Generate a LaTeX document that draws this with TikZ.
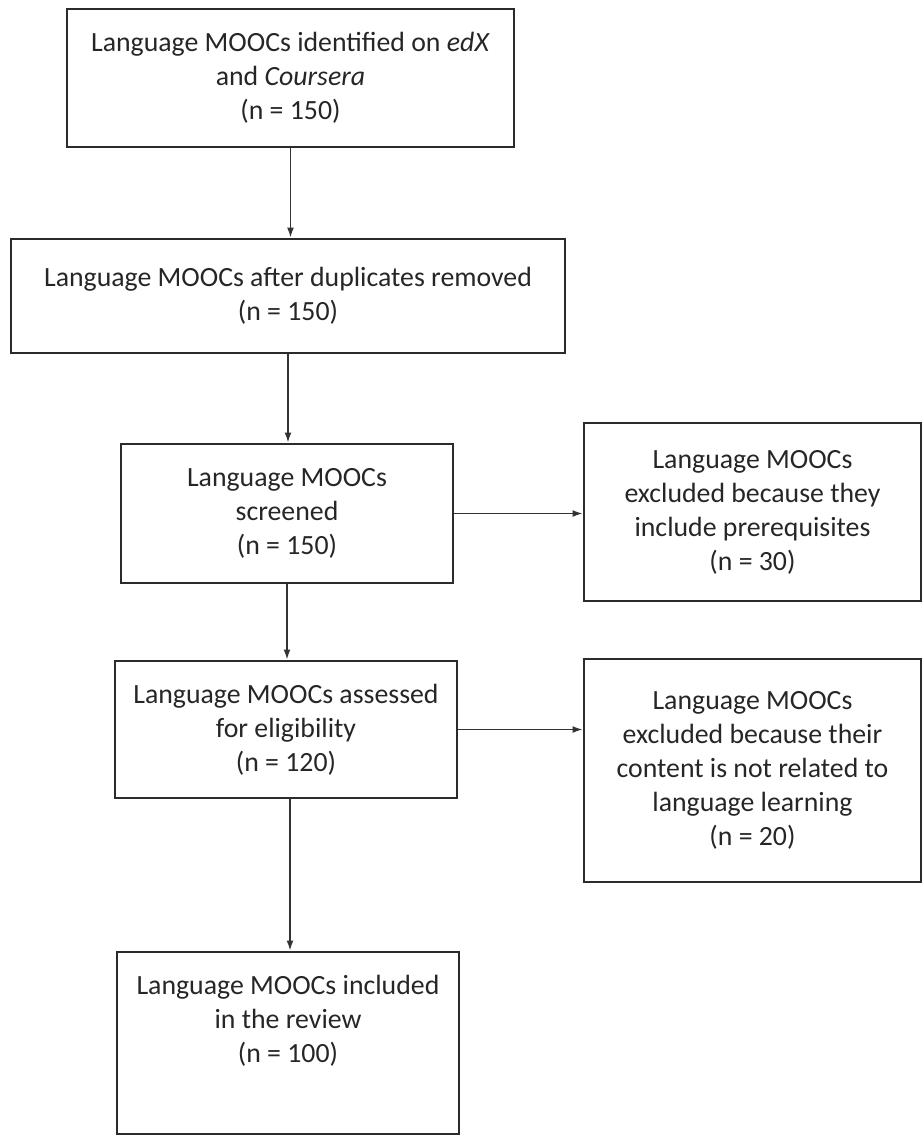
\documentclass[tikz,border=0pt]{standalone}
\usepackage{xcolor}
\usepackage{fontspec}
\setsansfont{Carlito}
\usetikzlibrary{arrows.meta,positioning}
\definecolor{ink}{HTML}{262626}
\definecolor{line}{HTML}{2B2B2B}
\definecolor{flow}{HTML}{333333}
\tikzset{
  font=\sffamily,
  box/.style={
    draw=line,
    line width=1.3pt,
    align=center,
    text=ink,
    inner sep=3pt,
    font=\sffamily\fontsize{13.9}{17}\selectfont
  },
  stagebox/.style={
    box,
    minimum width=171pt,
    minimum height=68.5pt
  },
  excludebox/.style={
    box,
    minimum width=168.5pt
  },
  arrow/.style={
    -{Latex[length=5pt,width=3.4pt]},
    draw=flow,
    line width=0.8pt
  }
}

\begin{document}
\begin{tikzpicture}[x=0.5pt, y=-0.5pt]
\useasboundingbox (0,0) rectangle (923,1136);

% ---------------------------------------------------------------------------
% Main column
% ---------------------------------------------------------------------------
\node[box, minimum width=223.5pt, minimum height=69pt] (identified) at (290.5,78)
  {Language MOOCs identified on \textit{edX}\\and \textit{Coursera}\\(n = 150)};
\node[box, minimum width=277pt, minimum height=57pt] (dedup) at (288,296)
  {Language MOOCs after duplicates removed\\(n = 150)};
\node[stagebox, minimum width=166pt, minimum height=69.5pt] (screened) at (287,513.5)
  {Language MOOCs\\screened\\(n = 150)};
\node[stagebox] (eligible) at (286,729.5)
  {Language MOOCs assessed\\for eligibility\\(n = 120)};
\node[stagebox, minimum height=91pt, text depth=24pt] (included) at (288,1043)
  {Language MOOCs included\\in the review\\(n = 100)};

% ---------------------------------------------------------------------------
% Exclusions
% ---------------------------------------------------------------------------
\node[excludebox, minimum height=89pt] (prereq) at (752.5,512)
  {Language MOOCs\\excluded because they\\include prerequisites\\(n = 30)};
\node[excludebox, minimum height=111.5pt] (unrelated) at (752.5,770.5)
  {Language MOOCs\\excluded because their\\content is not related to\\language learning\\(n = 20)};

\draw[arrow] (identified.south) -- (identified.south |- dedup.north);
\draw[arrow] (dedup.south) -- (dedup.south |- screened.north);
\draw[arrow] (screened.south) -- (screened.south |- eligible.north);
\draw[arrow] ([xshift=2pt]eligible.south) -- ([xshift=2pt]eligible.south |- included.north);
\draw[arrow] (screened.east) -- (screened.east -| prereq.west);
\draw[arrow] (eligible.east) -- (eligible.east -| unrelated.west);

\end{tikzpicture}
\end{document}
